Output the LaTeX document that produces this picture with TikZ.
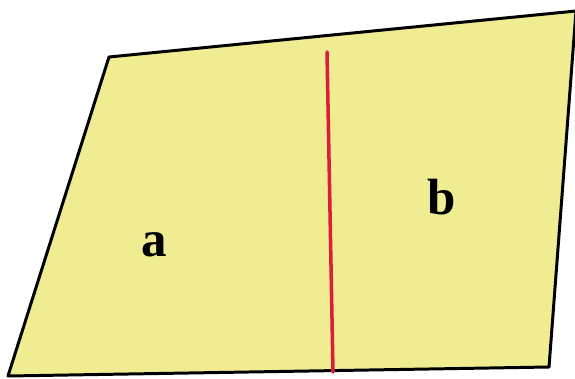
\documentclass[tikz,border=0pt]{standalone}
\usepackage{fontspec}
\setmainfont{Liberation Serif}
\usepackage{tikz}

\definecolor{paleyellow}{RGB}{240,236,145}
\definecolor{cutred}{RGB}{222,28,62}

\begin{document}
\begin{tikzpicture}[label/.style={font=\fontsize{29}{29}\selectfont\bfseries}]

\useasboundingbox (0,0) rectangle (11.5,7.56);

% Sheet
\draw[line width=1.7pt, fill=paleyellow, line join=round] (2.18,6.42) -- (11.52,7.34) -- (10.98,0.22) -- (0.16,0.04) -- cycle;

% Cut
\coordinate (top) at (6.54,6.52);
\coordinate (bottom) at (6.66,0.12);
\draw[cutred, line width=2pt, line cap=round] (top) -- (bottom);

\node[label] (a) at (3.08,2.66) {a};
\node[label] (b) at (8.84,3.62) {b};

\end{tikzpicture}
\end{document}
